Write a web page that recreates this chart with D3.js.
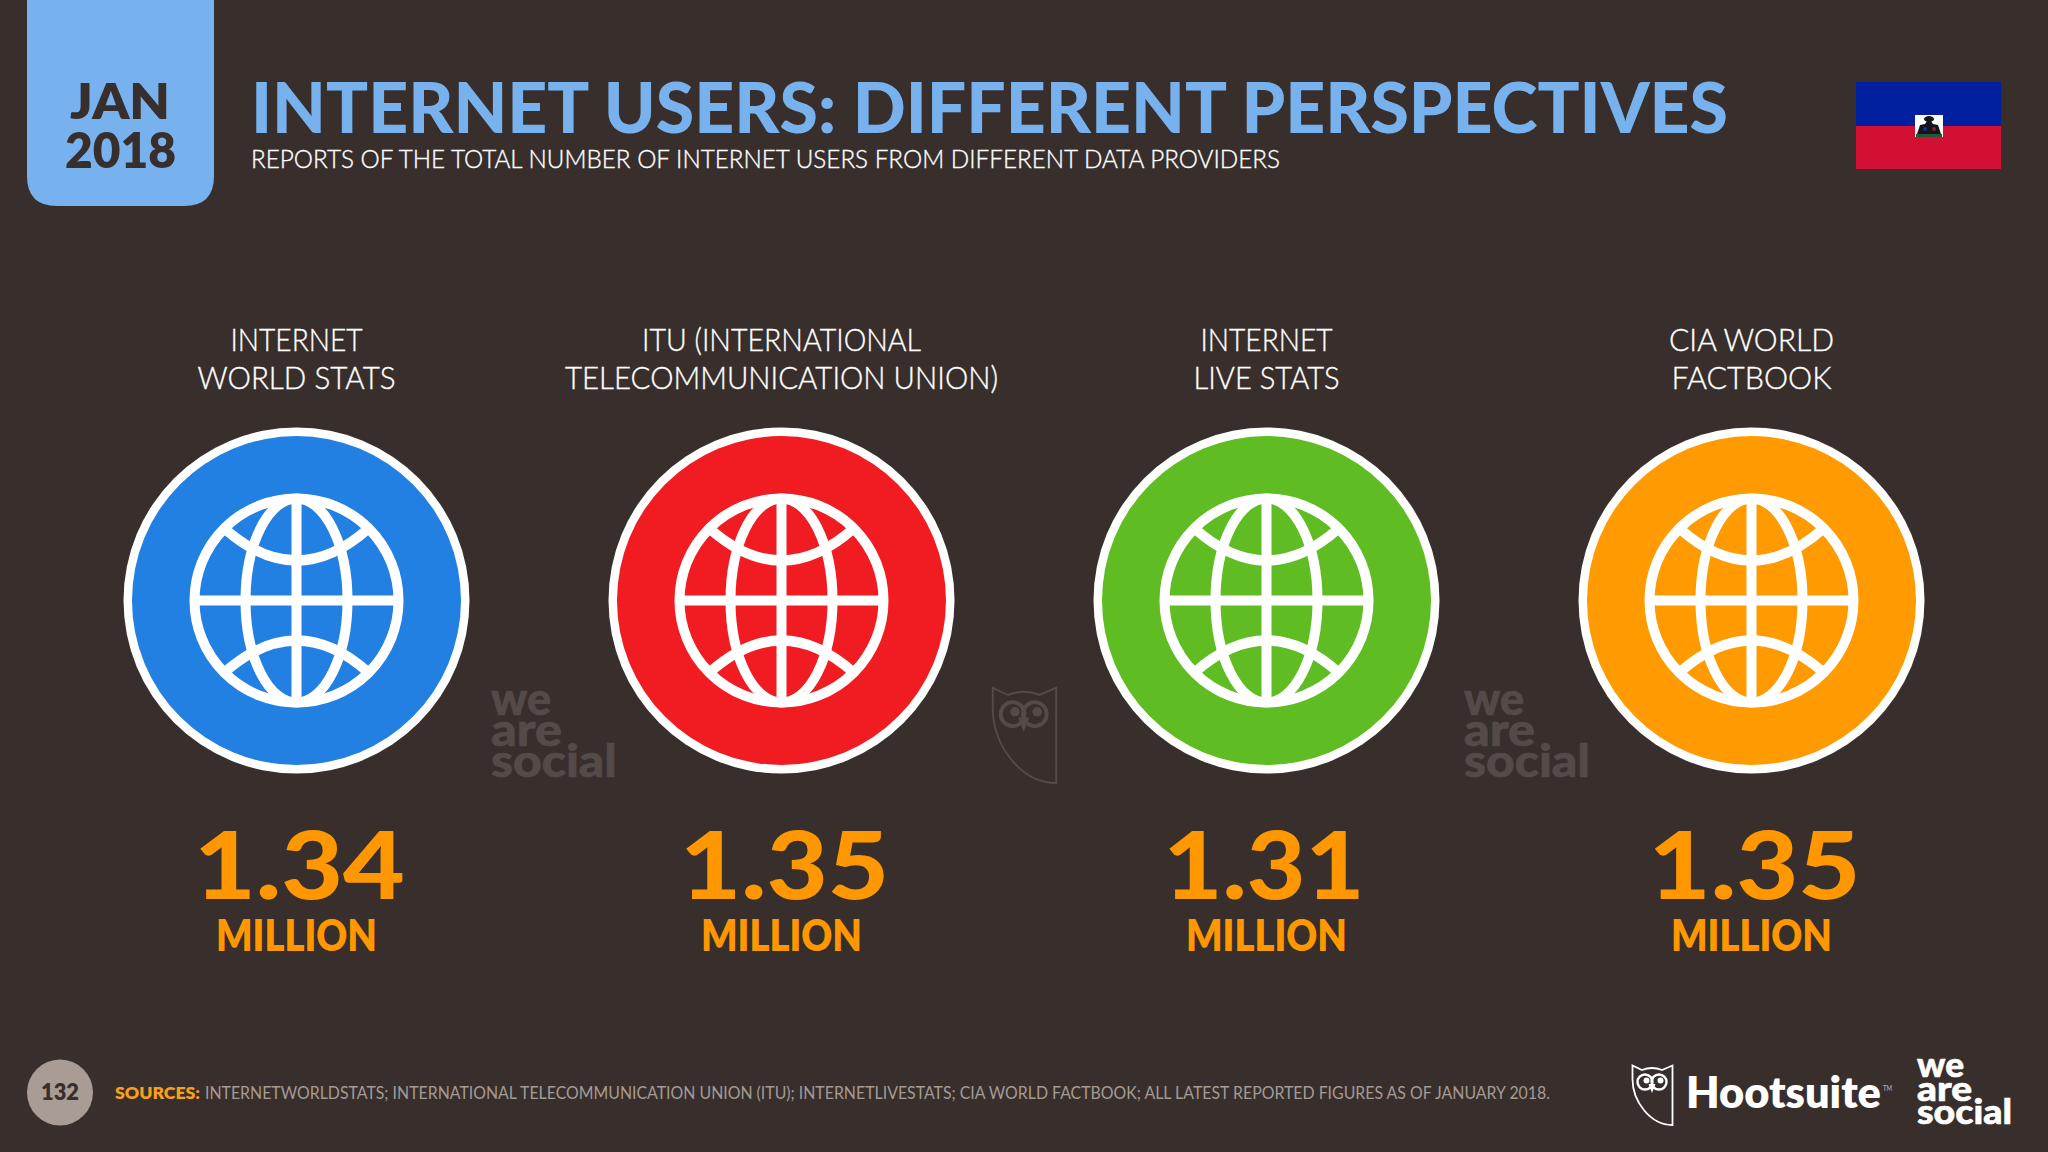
<!DOCTYPE html>
<html>
<head>
<meta charset="utf-8">
<title>Internet users: different perspectives</title>
<script src="https://cdn.jsdelivr.net/npm/d3@7"></script>
<style>
  html, body { margin: 0; padding: 0; background: #382f2c; }
  svg { display: block; }
  text { font-family: Lato, "Noto Sans", sans-serif; }
  .thin { stroke: #fff; stroke-width: 0.35; }
</style>
</head>
<body>
<svg id="chart" width="2048" height="1152"></svg>
<script>
var categories = ["Internet World Stats", "ITU", "Internet Live Stats", "CIA World Factbook"];
var labelTop = ["INTERNET", "ITU (INTERNATIONAL", "INTERNET", "CIA WORLD"];
var labelBottom = ["WORLD STATS", "TELECOMMUNICATION UNION)", "LIVE STATS", "FACTBOOK"];
var users = [1.34, 1.35, 1.31, 1.35];
var unit = "MILLION";
var colors = ["#2280e2", "#f11c22", "#5fbd23", "#ff9b00"];

var bg = "#382f2c", sky = "#78b2ee", orange = "#ff9800", ghost = "#544b49";

var svg = d3.select("#chart");
svg.append("rect").attr("width", 2048).attr("height", 1152).attr("fill", bg);

var x = d3.scalePoint().domain(categories).range([296.5, 1751.5]);
var fmt = d3.format(".2f");

// text with a forced width, the slide font is narrower than anything installed
function label(parent, str, px, py, size, weight, fill, width, anchor) {
  var t = parent.append("text")
    .attr("x", px).attr("y", py)
    .attr("font-size", size).attr("font-weight", weight)
    .attr("fill", fill).attr("text-anchor", anchor || "start")
    .text(str);
  if (width) t.attr("textLength", width).attr("lengthAdjust", "spacingAndGlyphs");
  return t;
}

// header
var r = 30;
svg.append("path").attr("fill", sky)
  .attr("d", "M27,0H214V" + (206 - r) + "Q214,206 " + (214 - r) + ",206H" + (27 + r) + "Q27,206 27," + (206 - r) + "Z");
label(svg, "JAN", 120, 119, 50, 800, bg, 100, "middle");
label(svg, "2018", 120.5, 168, 50, 800, bg, 111, "middle");
label(svg, "INTERNET USERS: DIFFERENT PERSPECTIVES", 251, 133, 70, 900, sky, 1477);
label(svg, "REPORTS OF THE TOTAL NUMBER OF INTERNET USERS FROM DIFFERENT DATA PROVIDERS", 251, 168, 25, 300, "#fff", 1029)
  .attr("class", "thin");

// flag
svg.append("rect").attr("x", 1856).attr("y", 82).attr("width", 145).attr("height", 44).attr("fill", "#00209f");
svg.append("rect").attr("x", 1856).attr("y", 126).attr("width", 145).attr("height", 43).attr("fill", "#d21034");
svg.append("rect").attr("x", 1915).attr("y", 115).attr("width", 28).attr("height", 22).attr("fill", "#fff");
svg.append("ellipse").attr("cx", 1929).attr("cy", 119).attr("rx", 5).attr("ry", 3).attr("fill", "#14141c");
svg.append("path").attr("fill", "#14141c").attr("d", "M1927,121h4l2,3l5,1l3,9h-24l3,-9l5,-1z");
svg.append("circle").attr("cx", 1925).attr("cy", 129).attr("r", 2).attr("fill", "#1c2f8c");
svg.append("circle").attr("cx", 1934).attr("cy", 129).attr("r", 2).attr("fill", "#8c1c34");
svg.append("rect").attr("x", 1916).attr("y", 134).attr("width", 26).attr("height", 3).attr("fill", "#1f5a32");

// globe icon
function globe(g) {
  var R = 102, w = 10;
  var lines = g.append("g").attr("fill", "none").attr("stroke", "#fff").attr("stroke-width", w);
  lines.append("circle").attr("r", R);
  lines.append("ellipse").attr("rx", 51).attr("ry", R);
  lines.append("line").attr("y1", -R).attr("y2", R);
  lines.append("line").attr("x1", -R).attr("x2", R);
  lines.append("path").attr("d", "M-72,-72Q0,-8 72,-72");
  lines.append("path").attr("d", "M-72,72Q0,8 72,72");
}

var items = svg.selectAll("g.item").data(categories).enter().append("g")
  .attr("class", "item")
  .attr("transform", function (d) { return "translate(" + x(d) + ",0)"; });

items.each(function (d, i) {
  var g = d3.select(this);
  label(g, labelTop[i], 0, 351, 31, 300, "#fff", [132, 279, 132, 165][i], "middle").attr("class", "thin");
  label(g, labelBottom[i], 0, 389, 31, 300, "#fff", [198, 433, 146, 160][i], "middle").attr("class", "thin");
  var c = g.append("g").attr("transform", "translate(0,600.5)");
  c.append("circle").attr("r", 173).attr("fill", "#fff");
  c.append("circle").attr("r", 164.5).attr("fill", colors[i]);
  globe(c);
  label(g, fmt(users[i]), [3, 3, -2.5, 3][i], 899, 94, 900, orange, [211, 209, 201, 212][i], "middle");
  label(g, unit, 0, 951, 44, 800, orange, 161, "middle");
});

// owl mark
function owl(px, py, w, h, col, sw) {
  var g = svg.append("g").attr("transform", "translate(" + px + "," + py + ") scale(" + (w / 41) + "," + (h / 60) + ")");
  g.append("path").attr("fill", "none").attr("stroke", col).attr("stroke-width", sw)
    .attr("d", "M0.5,0.5L10,5Q20,1 30,5L40.5,0.5V60C18,60 0.5,36 0.5,14Z");
  [[13, 17], [27, 17]].forEach(function (e) {
    g.append("circle").attr("cx", e[0]).attr("cy", e[1]).attr("r", 7.5).attr("fill", "none").attr("stroke", col).attr("stroke-width", 2.4);
    g.append("circle").attr("cx", e[0] + 1.5).attr("cy", e[1] - 1.5).attr("r", 3).attr("fill", col);
  });
  g.append("path").attr("fill", col).attr("d", "M16.5,19L23.5,19L20,28Z");
}

// stacked wordmark, the three lines sit tight like the logo
var wordmark = ["we", "are", "social"];
function weare(px, py, size, gap, col, widths) {
  wordmark.forEach(function (s, i) {
    label(svg, s, px, py + i * gap, size, 900, col, widths[i])
      .attr("stroke", col).attr("stroke-width", 0.6);
  });
}

// watermarks
weare(491, 715, 45, 31, ghost, [60, 71, 126]);
weare(1464, 715, 45, 31, ghost, [60, 71, 126]);
owl(992, 687, 65, 96, ghost, 1.2);

// footer
svg.append("circle").attr("cx", 60).attr("cy", 1092.5).attr("r", 33).attr("fill", "#a89c95");
label(svg, "132", 60, 1100, 22, 800, bg, 38, "middle");
label(svg, "SOURCES:", 115, 1099, 17, 800, "#f9a01b", 85);
label(svg, "INTERNETWORLDSTATS; INTERNATIONAL TELECOMMUNICATION UNION (ITU); INTERNETLIVESTATS; CIA WORLD FACTBOOK; ALL LATEST REPORTED FIGURES AS OF JANUARY 2018.", 205, 1099, 17, 400, "#a59b95", 1345);

owl(1632, 1065, 41, 60, "#fff", 1.8);
label(svg, "Hootsuite", 1686, 1108, 44, 800, "#fff", 195);
label(svg, "TM", 1883, 1091, 8, 400, "#bbb", 9);
weare(1917, 1077, 34, 23.5, "#fff", [47, 55, 95]);
</script>
</body>
</html>
